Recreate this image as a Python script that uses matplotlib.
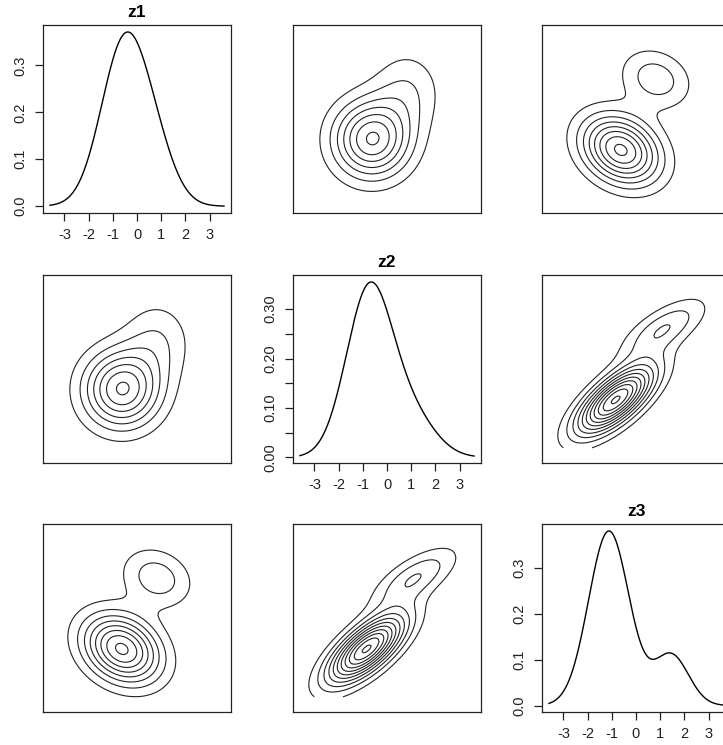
import matplotlib.pyplot as plt
import numpy as np

plt.rcParams["font.family"] = "Liberation Sans"
plt.rcParams["xtick.direction"] = "out"
plt.rcParams["ytick.direction"] = "out"
plt.rcParams["axes.linewidth"] = 0.9

# two-component gaussian mixture in (z1, z2, z3)
names = ["z1", "z2", "z3"]
weights = [0.8, 0.2]
mean_1 = [-0.55, -0.74, -1.12]
mean_2 = [0.72, 1.00, 1.45]
sd_1 = [0.95, 0.95, 0.84]
sd_2 = [0.85, 1.00, 0.72]
corr_1 = [[1.0, 0.0, -0.25],
          [0.0, 1.0, 0.7],
          [-0.25, 0.7, 1.0]]
corr_2 = [[1.0, 0.0, -0.2],
          [0.0, 1.0, 0.68],
          [-0.2, 0.68, 1.0]]

x_ticks = [-3, -2, -1, 0, 1, 2, 3]
y_ticks = {
    "z1": [0.0, 0.1, 0.2, 0.3],
    "z2": [0.0, 0.05, 0.10, 0.15, 0.20, 0.25, 0.30],
    "z3": [0.0, 0.1, 0.2, 0.3],
}
y_labels = {
    "z1": ["0.0", "0.1", "0.2", "0.3"],
    "z2": ["0.00", "", "0.10", "", "0.20", "", "0.30"],
    "z3": ["0.0", "0.1", "0.2", "0.3"],
}

curve_lo, curve_hi = -3.6, 3.6     # range of the density curves
grid_lo, grid_hi = -2.85, 2.85     # grid for the contour panels
box_lo, box_hi = -3.4, 3.4         # axis limits of the contour panels

means = [np.array(mean_1), np.array(mean_2)]
sds = [np.array(sd_1), np.array(sd_2)]
corrs = [np.array(corr_1), np.array(corr_2)]


def dens_1d(x, k):
    out = np.zeros_like(x)
    for w, m, s in zip(weights, means, sds):
        out += w * np.exp(-0.5 * ((x - m[k]) / s[k]) ** 2) / (s[k] * np.sqrt(2 * np.pi))
    return out


def dens_2d(X, Y, i, j):
    out = np.zeros_like(X)
    for w, m, s, r in zip(weights, means, sds, corrs):
        rho = r[i, j]
        u = (X - m[i]) / s[i]
        v = (Y - m[j]) / s[j]
        q = (u ** 2 - 2 * rho * u * v + v ** 2) / (1 - rho ** 2)
        out += w * np.exp(-0.5 * q) / (2 * np.pi * s[i] * s[j] * np.sqrt(1 - rho ** 2))
    return out


def pretty_levels(zmax, n=10):
    # step of 1, 2 or 5 x 10^k giving close to n intervals
    raw = zmax / n
    base = 10 ** np.floor(np.log10(raw))
    steps = [base * f for f in (1, 2, 5, 10)]
    step = min(steps, key=lambda s: abs(zmax / s - n))
    return np.arange(step, zmax, step)


W, H = 723, 745
fig = plt.figure(figsize=(W / 100, H / 100), dpi=100)
fig.patch.set_facecolor("white")

col_left = [43, 293, 542]
row_top = [25, 275, 524]
size = 188

xg = np.linspace(grid_lo, grid_hi, 81)
X, Y = np.meshgrid(xg, xg)
xc = np.linspace(curve_lo, curve_hi, 300)

for r in range(3):
    for c in range(3):
        ax = fig.add_axes([col_left[c] / W, 1 - (row_top[r] + size) / H, size / W, size / H])
        for s in ax.spines.values():
            s.set_color("#222222")
        if r == c:
            name = names[r]
            yc = dens_1d(xc, r)
            ax.plot(xc, yc, color="black", lw=1.0)
            pad_x = 0.04 * (curve_hi - curve_lo)
            ax.set_xlim(curve_lo - pad_x, curve_hi + pad_x)
            pad_y = 0.04 * (yc.max() - yc.min())
            ax.set_ylim(yc.min() - pad_y, yc.max() + pad_y)
            ax.set_xticks(x_ticks)
            ax.set_xticklabels([str(t) for t in x_ticks])
            ax.set_yticks(y_ticks[name])
            ax.set_yticklabels(y_labels[name], rotation=90, va="center")
            ax.tick_params(length=6, width=0.9, labelsize=10.5, pad=5, colors="#222222")
            ax.set_title(name, fontsize=12.5, fontweight="bold", pad=6)
        else:
            i, j = min(r, c), max(r, c)
            Z = dens_2d(X, Y, i, j)
            ax.contour(X, Y, Z, levels=pretty_levels(Z.max()), colors="#222222", linewidths=0.8)
            ax.set_xlim(box_lo, box_hi)
            ax.set_ylim(box_lo, box_hi)
            ax.set_xticks([])
            ax.set_yticks([])

fig.savefig("out.png", dpi=100)
